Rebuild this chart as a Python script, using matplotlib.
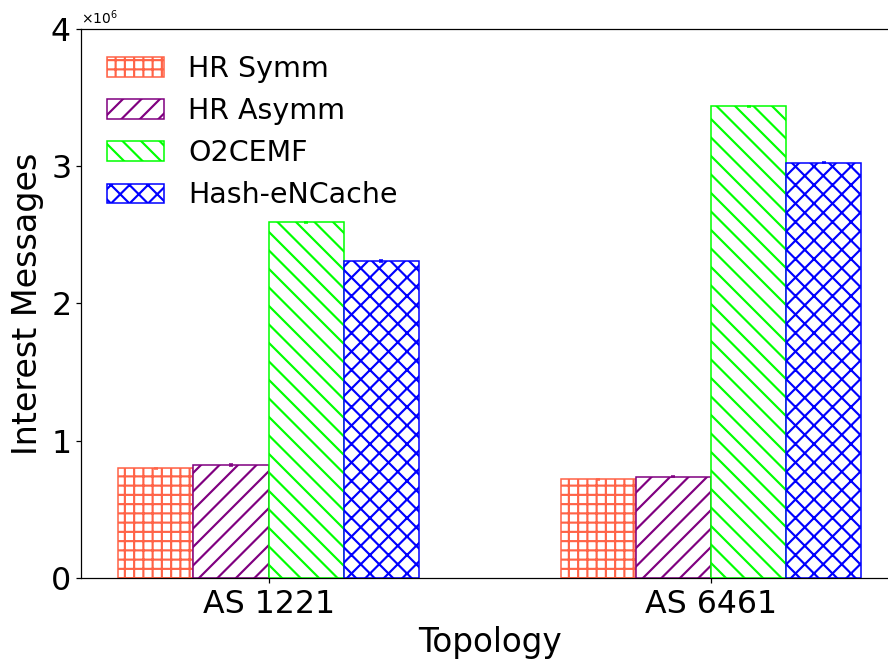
import numpy as np
import matplotlib.pyplot as plt

# -------------------------------
# Data
# -------------------------------
topologies = ["AS 1221", "AS 6461"]
methods = ["HR Symm", "HR Asymm", "O2CEMF", "Hash-eNCache"]
hr_symm = [0.80e6, 0.72e6]
hr_asymm = [0.823e6, 0.737e6]
o2cemf = [2.592e6, 3.436e6]
hash_encache = [2.310e6, 3.025e6]
errors = [4000, 4000]

colors = ["tomato", "purple", "lime", "blue"]
hatches = ["++", "//", "\\\\", "xx"]

plt.rcParams["hatch.linewidth"] = 1.4

# -------------------------------
# Plotting
# -------------------------------
fig = plt.figure(figsize=(8, 661 / 111), dpi=111)
ax = fig.add_axes([0.0912, 0.1256, 0.9206, 0.8305])

x = np.arange(len(topologies))
w = 0.17
series = [hr_symm, hr_asymm, o2cemf, hash_encache]
for i, (vals, name) in enumerate(zip(series, methods)):
    ax.bar(x + (i - 1.5) * w, vals, w, yerr=errors, label=name,
           color="white", edgecolor=colors[i], hatch=hatches[i],
           ecolor=colors[i], capsize=1.5, error_kw=dict(elinewidth=1))

ax.set_xticks(x)
ax.set_xticklabels(topologies)
ax.set_ylim(0, 4e6)
ax.set_yticks([0, 1e6, 2e6, 3e6, 4e6])
ax.ticklabel_format(axis="y", style="sci", scilimits=(0, 0), useMathText=True)
ax.tick_params(labelsize=20.5)
ax.yaxis.get_offset_text().set_fontsize(9)
ax.set_xlabel("Topology", fontsize=21.2)
ax.set_ylabel("Interest Messages", fontsize=21.7)
ax.legend(fontsize=18.5, frameon=False, loc="upper left", handletextpad=0.85)

fig.savefig("out.png", dpi=111)
